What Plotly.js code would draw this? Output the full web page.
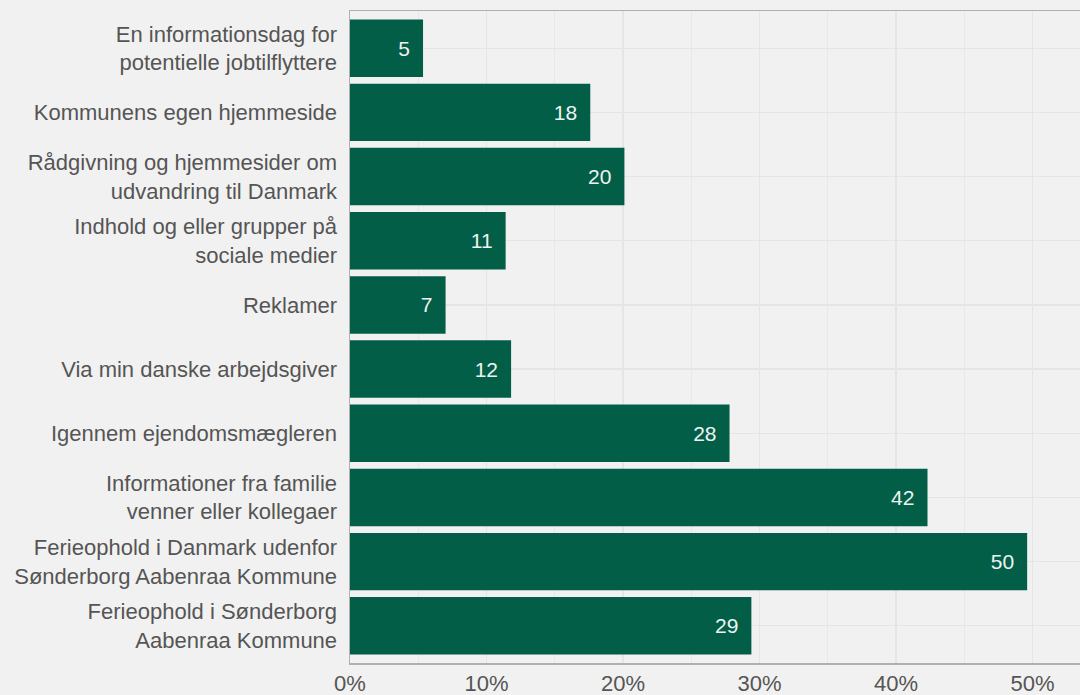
<!DOCTYPE html>
<html>
<head>
<meta charset="utf-8">
<script src="https://cdn.plot.ly/plotly-3.0.1.min.js"></script>
<style>
  html, body { margin: 0; padding: 0; background: #f1f1f1; }
  #chart { width: 1080px; height: 695px; }
</style>
</head>
<body>
<div id="chart"></div>
<script>
// Categories (top to bottom)
const categories = [
  "En informationsdag for<br>potentielle jobtilflyttere",
  "Kommunens egen hjemmeside",
  "Rådgivning og hjemmesider om<br>udvandring til Danmark",
  "Indhold og eller grupper på<br>sociale medier",
  "Reklamer",
  "Via min danske arbejdsgiver",
  "Igennem ejendomsmægleren",
  "Informationer fra familie<br>venner eller kollegaer",
  "Ferieophold i Danmark udenfor<br>Sønderborg Aabenraa Kommune",
  "Ferieophold i Sønderborg<br>Aabenraa Kommune"
];
// Share of respondents, percent
const values = [5.35, 17.6, 20.1, 11.4, 7.0, 11.8, 27.8, 42.3, 49.6, 29.4];
// Labels shown in bars (rounded)
const labels = ["5", "18", "20", "11", "7", "12", "28", "42", "50", "29"];
const xTickVals = [0, 10, 20, 30, 40, 50];
const xTickText = ["0%", "10%", "20%", "30%", "40%", "50%"];

const trace = {
  type: "bar",
  orientation: "h",
  y: categories,
  x: values,
  text: labels.map(s => s + "\u00a0\u2009"),
  textposition: "inside",
  insidetextanchor: "end",
  textangle: 0,
  constraintext: "none",
  textfont: { family: "Liberation Sans, Arial, sans-serif", size: 21, color: "#eef3f1" },
  marker: { color: "#035e48" },
  width: 0.895,
  hoverinfo: "none"
};

const layout = {
  width: 1080,
  height: 695,
  margin: { l: 350, r: 0, t: 11, b: 32, pad: 0 },
  paper_bgcolor: "#f1f1f1",
  plot_bgcolor: "#f1f1f1",
  font: { family: "Liberation Sans, Arial, sans-serif", size: 22, color: "#555555" },
  showlegend: false,
  xaxis: {
    range: [0, 53.47],
    tickvals: xTickVals,
    ticktext: xTickText,
    showgrid: true,
    gridcolor: "#e5e5e5",
    gridwidth: 1.2,
    minor: { dtick: 5, tick0: 0, showgrid: true, gridcolor: "#e8e8e8", gridwidth: 1 },
    zeroline: false,
    showline: true,
    linecolor: "#b0b0b0",
    linewidth: 1.5,
    mirror: true,
    ticks: "",
    tickfont: { size: 22, color: "#555555" },
    fixedrange: true
  },
  yaxis: {
    type: "category",
    categoryorder: "array",
    categoryarray: categories,
    range: [9.58, -0.58],
    showgrid: true,
    gridcolor: "#e5e5e5",
    gridwidth: 1.2,
    zeroline: false,
    showline: true,
    linecolor: "#b0b0b0",
    linewidth: 1.5,
    ticks: "",
    ticklabelstandoff: 7,
    tickfont: { size: 22, color: "#555555" },
    fixedrange: true
  }
};

Plotly.newPlot("chart", [trace], layout, { displayModeBar: false, staticPlot: true });
</script>
</body>
</html>
